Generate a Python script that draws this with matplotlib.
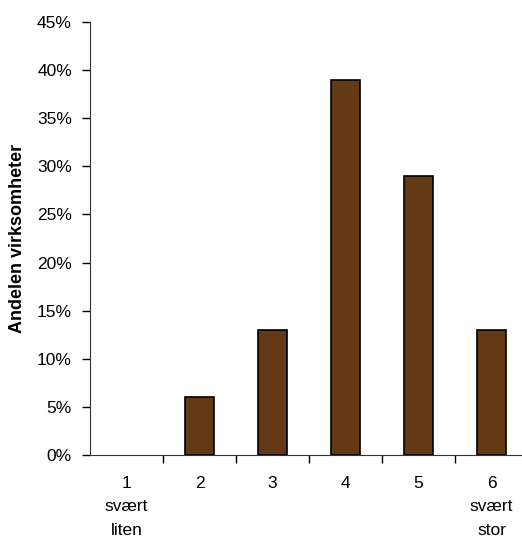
import matplotlib.pyplot as plt
import numpy as np
from matplotlib.ticker import FixedLocator, PercentFormatter

plt.rcParams['font.family'] = ['Liberation Sans', 'DejaVu Sans']

categories = ["1\nsvært\nliten", "2", "3", "4", "5", "6\nsvært\nstor"]
shares = [0, 6, 13, 39, 29, 13]
yticks = [0, 5, 10, 15, 20, 25, 30, 35, 40, 45]

fig = plt.figure(figsize=(5.22, 5.36), dpi=100)
ax = fig.add_axes([90 / 522, 81 / 536, 438 / 522, 433 / 536])

x = np.arange(len(categories))
bars = ax.bar(x, shares, width=0.4, color='#633A15', edgecolor='black', linewidth=1.2)
for b, v in zip(bars, shares):
    if v == 0:
        b.set_linewidth(0)

ax.set_xlim(-0.5, len(categories) - 0.5)
ax.set_ylim(0, 45)
ax.set_yticks(yticks)
ax.yaxis.set_major_formatter(PercentFormatter(decimals=0))

# labels sit at the centres, tick marks at the category borders
ax.set_xticks(x)
ax.set_xticklabels(categories, linespacing=1.7)
ax.xaxis.set_minor_locator(FixedLocator(np.arange(len(categories)) + 0.5))
ax.tick_params(axis='x', which='major', length=0, pad=15, labelsize=12.5)
ax.tick_params(axis='x', which='minor', length=6, direction='out', width=1)
ax.tick_params(axis='y', length=6, direction='out', width=1, pad=7, labelsize=12.5)

ax.spines['top'].set_visible(False)
ax.spines['right'].set_visible(False)
ax.spines['left'].set_color('#333333')
ax.spines['bottom'].set_color('#333333')

ax.set_ylabel('Andelen virksomheter', fontsize=13, fontweight='bold', labelpad=8)

fig.savefig('out.png', dpi=100)
